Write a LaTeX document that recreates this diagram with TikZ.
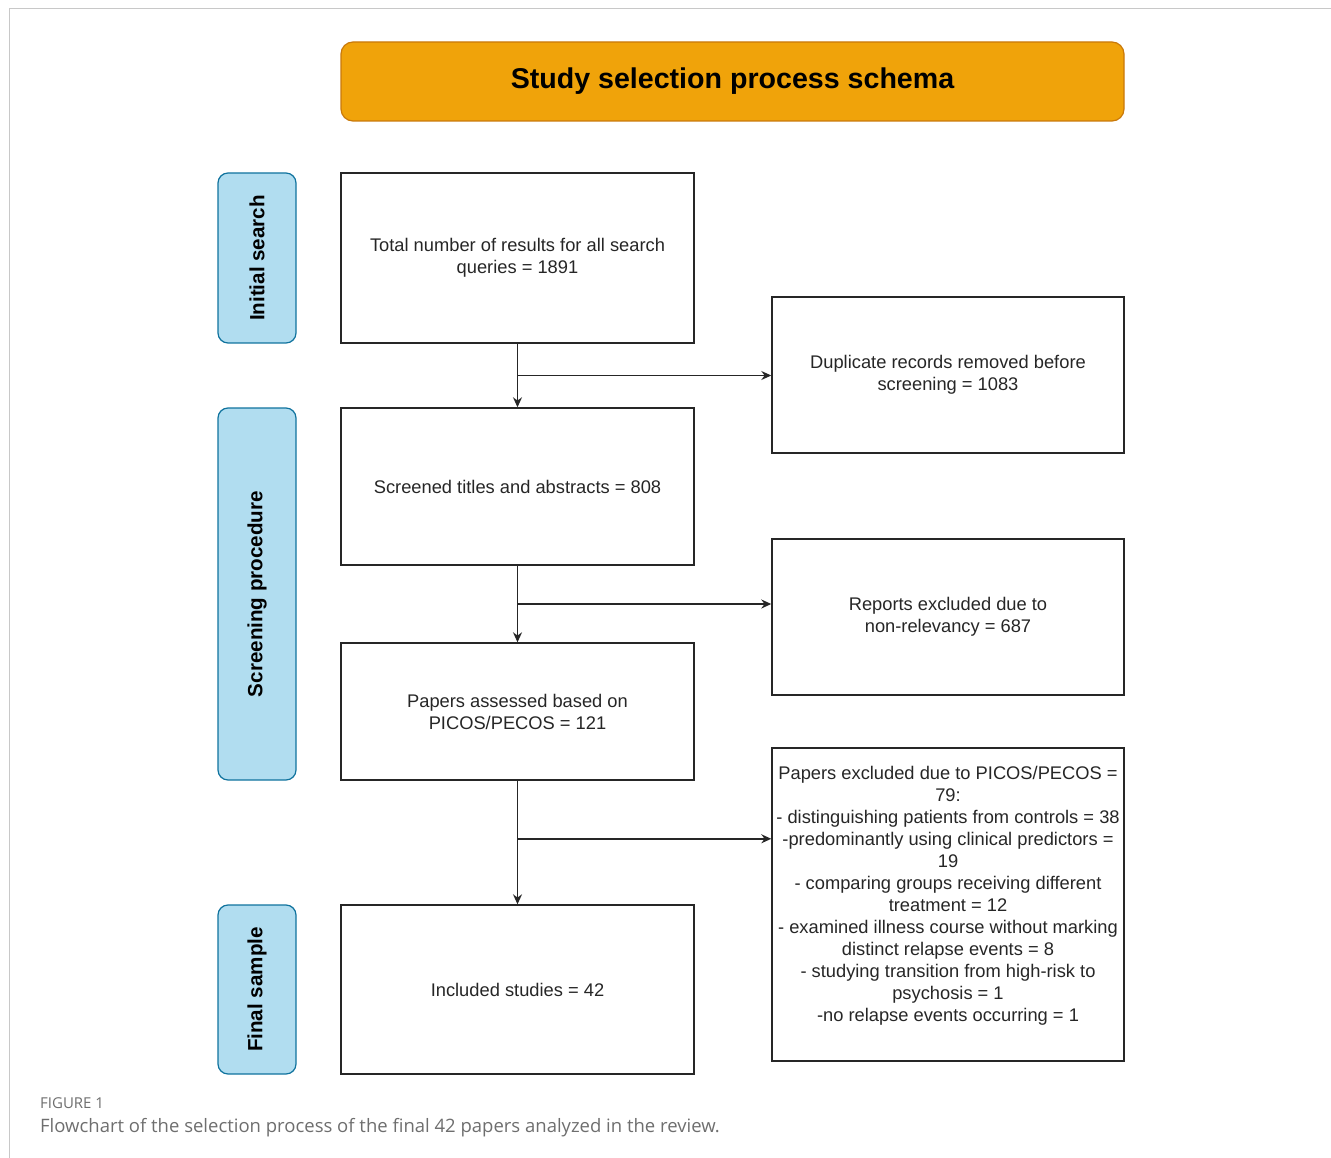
\documentclass[tikz,border=0pt]{standalone}
\usepackage{fontspec}
\setmainfont{Liberation Sans}
\newfontfamily\capfont{Open Sans}
\usetikzlibrary{calc,arrows.meta}
\definecolor{titlefill}{HTML}{F0A30A}
\definecolor{titleline}{HTML}{C9790A}
\definecolor{phasefill}{HTML}{B1DDF0}
\definecolor{phaseline}{HTML}{10739E}
\definecolor{framegray}{HTML}{C8C8C8}
\definecolor{capgray}{HTML}{6E6E6E}
\begin{document}
\begin{tikzpicture}[x=1pt,y=-1pt,
	box/.style={draw=black!85,line width=1.4pt,text=black!85,align=center,font=\fontsize{18.3}{22}\selectfont,inner sep=0pt},
	phase/.style={draw=phaseline,fill=phasefill,line width=1.2pt,rounded corners=10pt,rotate=90,minimum height=78pt,font=\bfseries\fontsize{20.6}{22}\selectfont,inner sep=0pt},
	arrow/.style={-{Stealth[length=10pt,width=9pt]},line width=1.5pt,black!85}]
	\useasboundingbox (0,0) rectangle (1331,1158);
	\draw[framegray,line width=1pt] (1331,9) -- (9,9) -- (9,1158);
	% title
	\node[draw=titleline,fill=titlefill,line width=1.2pt,rounded corners=12pt,minimum width=783pt,minimum height=79pt,font=\bfseries\fontsize{28.6}{30}\selectfont] (title) at (732.5,81.5) {Study selection process schema};
	% phases
	\node[phase,minimum width=170pt] (ini) at (257,258) {Initial search};
	\node[phase,minimum width=372pt] (scr) at (257,594) {Screening procedure};
	\node[phase,minimum width=169pt] (fin) at (257,989.5) {Final sample};
	% main column
	\node[box,minimum width=353pt,minimum height=170pt] (total) at (517.5,258) {Total number of results for all search\\queries = 1891};
	\node[box,minimum width=353pt,minimum height=157pt] (screened) at (517.5,486.5) {Screened titles and abstracts = 808};
	\node[box,minimum width=353pt,minimum height=137pt] (assessed) at (517.5,711.5) {Papers assessed based on\\PICOS/PECOS = 121};
	\node[box,minimum width=353pt,minimum height=169pt] (included) at (517.5,989.5) {Included studies = 42};
	% exclusions
	\node[box,minimum width=352pt,minimum height=156pt] (dupl) at (948,375) {Duplicate records removed before\\screening = 1083};
	\node[box,minimum width=352pt,minimum height=156pt] (nonrel) at (948,617) {Reports excluded due to\\non-relevancy = 687};
	\node[box,minimum width=352pt,minimum height=313pt,text depth=22pt] (picos) at (948,904.5) {Papers excluded due to PICOS/PECOS =\\79:\\- distinguishing patients from controls = 38\\-predominantly using clinical predictors =\\19\\- comparing groups receiving different\\treatment = 12\\- examined illness course without marking\\distinct relapse events = 8\\- studying transition from high-risk to\\psychosis = 1\\-no relapse events occurring = 1};
	% connectors
	\coordinate (m1) at ($(total.south)!0.5!(screened.north)$);
	\coordinate (m2) at ($(screened.south)!0.5!(assessed.north)$);
	\coordinate (m3) at ($(assessed.south)!0.47!(included.north)$);
	\draw[arrow] (total) -- (screened);
	\draw[arrow] (screened) -- (assessed);
	\draw[arrow] (assessed) -- (included);
	\draw[arrow] (m1) -- (m1 -| dupl.west);
	\draw[arrow] (m2) -- (m2 -| nonrel.west);
	\draw[arrow] (m3) -- (m3 -| picos.west);
	% caption
	\node[anchor=base west,inner sep=0pt,text=capgray,font=\capfont\fontsize{15}{17}\selectfont] (fig) at (40,1108) {FIGURE 1};
	\node[anchor=base west,inner sep=0pt,text=capgray,font=\capfont\fontsize{18.5}{20}\selectfont] (cap) at (40,1132) {Flowchart of the selection process of the final 42 papers analyzed in the review.};
\end{tikzpicture}
\end{document}
